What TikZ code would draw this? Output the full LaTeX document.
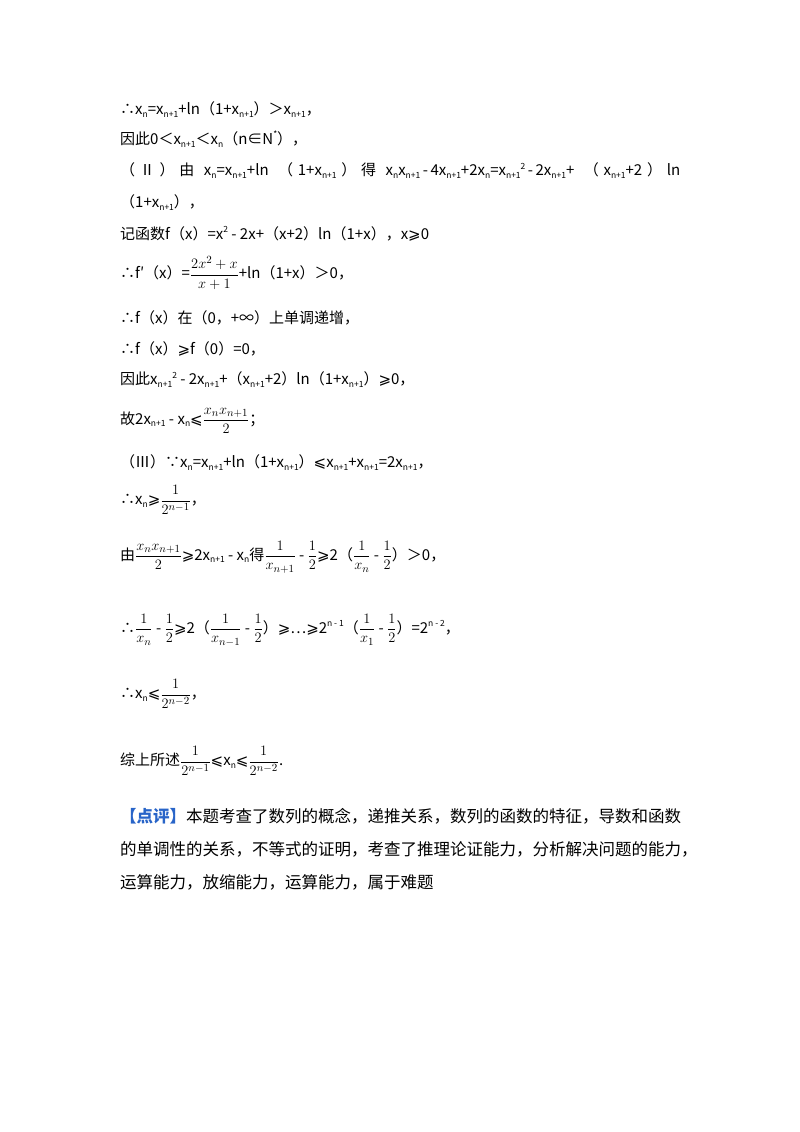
\documentclass[tikz,border=0pt]{standalone}
\usepackage{fontspec}
\usepackage{amsmath}
\setmainfont{Noto Sans CJK SC}
\newfontfamily\dv{DejaVu Sans}
\newcommand\GE{{\dv ⩾}}
\newcommand\LE{{\dv ⩽}}
\newcommand\sbs[1]{\raisebox{-0.35ex}{\fontsize{8.5}{8.5}\selectfont #1}}
\newcommand\sps[1]{\raisebox{0.8ex}{\fontsize{8.5}{8.5}\selectfont #1}}
\definecolor{blu}{RGB}{40,100,200}
\begin{document}
\begin{tikzpicture}[x=1pt,y=-1pt,every node/.style={anchor=west,inner sep=0pt,font=\fontsize{15}{17}\selectfont},
  para/.style={font=\fontsize{16.5}{18}\selectfont}]
\useasboundingbox (0,0) rectangle (800,1132);
\node (l1) at (120,110) {∴x\sbs{n}=x\sbs{n+1}+ln（1+x\sbs{n+1}）＞x\sbs{n+1}，};
\node (l2) at (120,139) {因此0＜x\sbs{n+1}＜x\sbs{n}（n∈N\sps{*}），};
\node (l3) at (120,171) {\makebox[560pt][s]{（\ Ⅱ\ ）\ 由\ \ x\sbs{n}=x\sbs{n+1}+ln\ \ （\ 1+x\sbs{n+1}\ ）\ 得\ \ x\sbs{n}x\sbs{n+1}\,-\,4x\sbs{n+1}+2x\sbs{n}=x\sbs{n+1}\sps{2}\,-\,2x\sbs{n+1}+\ \ （\ x\sbs{n+1}+2\ ）\ ln}};
\node (l3b) at (120,203) {（1+x\sbs{n+1}），};
\node (l4) at (120,234) {记函数f（x）=x\sps{2} - 2x+（x+2）ln（1+x），x\GE0};
\node (l5) at (120,273) {∴f′（x）=$\dfrac{2x^2+x}{x+1}$+ln（1+x）＞0，};
\node (l6) at (120,318) {∴f（x）在（0，+∞）上单调递增，};
\node (l7) at (120,349) {∴f（x）\GE f（0）=0，};
\node (l8) at (120,380) {因此x\sbs{n+1}\sps{2} - 2x\sbs{n+1}+（x\sbs{n+1}+2）ln（1+x\sbs{n+1}）\GE0，};
\node (l9) at (120,421) {故2x\sbs{n+1} - x\sbs{n}\LE$\dfrac{x_nx_{n+1}}{2}$；};
\node (l10) at (120,463) {（Ⅲ）∵x\sbs{n}=x\sbs{n+1}+ln（1+x\sbs{n+1}）\LE x\sbs{n+1}+x\sbs{n+1}=2x\sbs{n+1}，};
\node (l11) at (120,500) {∴x\sbs{n}\GE$\dfrac{1}{2^{n-1}}$，};
\node (l12) at (120,557) {由$\dfrac{x_nx_{n+1}}{2}$\GE2x\sbs{n+1} - x\sbs{n}得$\dfrac{1}{x_{n+1}}$ - $\dfrac12$\GE2（$\dfrac{1}{x_n}$ - $\dfrac12$）＞0，};
\node (l13) at (120,630) {∴$\dfrac{1}{x_n}$ - $\dfrac12$\GE2（$\dfrac{1}{x_{n-1}}$ - $\dfrac12$）\GE⋯\GE2\sps{n - 1}（$\dfrac{1}{x_1}$ - $\dfrac12$）=2\sps{n - 2}，};
\node (l14) at (120,694) {∴x\sbs{n}\LE$\dfrac{1}{2^{n-2}}$，};
\node (l15) at (120,761) {综上所述$\dfrac{1}{2^{n-1}}$\LE x\sbs{n}\LE$\dfrac{1}{2^{n-2}}$.};
\node[para] (p1) at (120,816) {\makebox[562pt][s]{{\color{blu}\bfseries【点评】}本题考查了数列的概念，递推关系，数列的函数的特征，导数和函数}};
\node[para] (p2) at (120,849) {\makebox[562pt][s]{的单调性的关系，不等式的证明，考查了推理论证能力，分析解决问题的能力，}};
\node[para] (p3) at (120,882) {运算能力，放缩能力，运算能力，属于难题};
\end{tikzpicture}
\end{document}
